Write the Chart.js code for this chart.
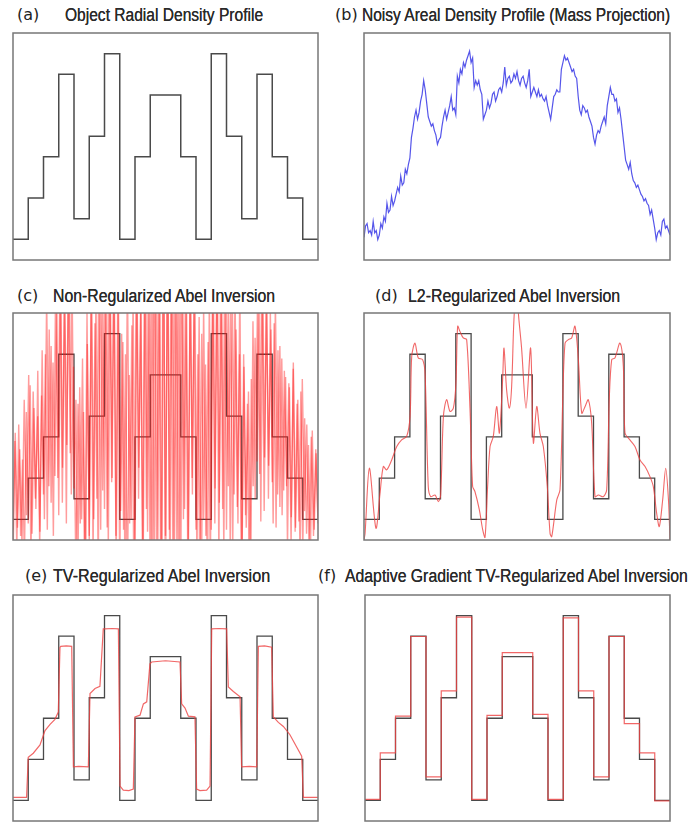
<!DOCTYPE html>
<html>
<head>
<meta charset="utf-8">
<script src="https://cdn.jsdelivr.net/npm/chart.js@4.4.0/dist/chart.umd.min.js"></script>
<style>
  body { margin: 0; background: #fff; width: 690px; height: 822px; position: relative; overflow: hidden; }
  canvas { position: absolute; }
  .lbl { position: absolute; font: 16px "DejaVu Sans"; color: #222; line-height: 20px; white-space: nowrap; }
  .ttl { position: absolute; font: 18px "Liberation Sans"; color: #2a2a2a; line-height: 20px; white-space: nowrap;
         transform-origin: 0 0; text-shadow: 0 0 0.6px #333; }
</style>
</head>
<body>
<div class="lbl" style="left:17px;top:5px">(a)</div>
<div class="ttl" style="left:65px;top:5px" data-w="198">Object Radial Density Profile</div>
<div class="lbl" style="left:335px;top:5px">(b)</div>
<div class="ttl" style="left:362px;top:5px" data-w="308">Noisy Areal Density Profile (Mass Projection)</div>
<div class="lbl" style="left:17px;top:286px">(c)</div>
<div class="ttl" style="left:53px;top:286px" data-w="222">Non-Regularized Abel Inversion</div>
<div class="lbl" style="left:375px;top:286px">(d)</div>
<div class="ttl" style="left:408px;top:286px" data-w="212">L2-Regularized Abel Inversion</div>
<div class="lbl" style="left:25px;top:566px">(e)</div>
<div class="ttl" style="left:53px;top:566px" data-w="217">TV-Regularized Abel Inversion</div>
<div class="lbl" style="left:318px;top:566px">(f)</div>
<div class="ttl" style="left:345px;top:566px" data-w="343">Adaptive Gradient TV-Regularized Abel Inversion</div>

<canvas id="chartA"></canvas>
<canvas id="chartB"></canvas>
<canvas id="chartC"></canvas>
<canvas id="chartD"></canvas>
<canvas id="chartE"></canvas>
<canvas id="chartF"></canvas>

<script>
// true object profile: one level per radial cell (20 cells)
const profileLevels = [1, 3, 5, 9, 2, 6, 10, 1, 5, 8, 8, 5, 1, 10, 6, 2, 9, 5, 3, 1];

// (b) noisy projection, sampled every 0.1 cell
const projValues = [
  10, 15, 16, 12, 13, 11, 17, 12, 13, 9,
  11, 16, 14, 19, 17, 25, 21, 22, 28, 24,
  26, 29, 32, 30, 37, 33, 34, 40, 38, 42,
  45, 54, 58, 63, 66, 62, 65, 70, 73, 79,
  75, 69, 63, 61, 59, 60, 57, 55, 51, 53,
  54, 59, 63, 66, 62, 65, 68, 72, 66, 67,
  64, 81, 78, 84, 82, 87, 85, 88, 90, 92,
  87, 89, 76, 79, 77, 79, 75, 73, 62, 64,
  66, 70, 67, 69, 73, 74, 70, 72, 75, 76,
  74, 78, 85, 77, 80, 81, 78, 79, 82, 80,
  83, 79, 77, 80, 81, 78, 76, 79, 84, 72,
  74, 76, 74, 72, 75, 72, 73, 71, 70, 72,
  68, 65, 62, 67, 72, 73, 75, 74, 74, 84,
  87, 90, 88, 89, 87, 85, 83, 84, 81, 80,
  72, 66, 64, 68, 67, 65, 66, 63, 61, 59,
  54, 51, 55, 57, 56, 59, 61, 63, 60, 68,
  72, 76, 73, 73, 70, 71, 65, 67, 62, 56,
  50, 44, 42, 40, 43, 38, 35, 34, 32, 33,
  31, 29, 28, 26, 27, 25, 24, 20, 22, 18,
  14, 9, 12, 13, 11, 17, 18, 14, 15, 13,
  11
];

// (c) unregularized inversion, two overlaid noisy runs
const rawValues = [
  0.5, 4.8, -0.5, 5.6, 0.2, 3.9, -1, 6.2,
  0.8, 7.5, 0.3, 6.4, 1.5, 8.2, -0.4, 7.0,
  2.2, 9.0, 0.5, 10.2, 1.8, 8.6, 3.1, 11.5,
  1.2, 13, 3.5, 12, 0.8, 14, 4.2, 12.5,
  2.5, 6.8, -2, 7.4, 1.0, 6.2, -3, 9.5,
  0.2, 12, -1, 10.5, 2.0, 13, 0.5, 11.8,
  1.5, 14, -0.5, 13, 3.0, 15, 0.2, 12.5,
  -2, 10, 0.5, 9, -3, 8.0, 1.0, 12,
  -1, 13, 3.5, 11, -2, 14, 1.5, 12.8,
  -3, 15, -2, 16, 0.0, 14, -4, 16,
  -4, 16, 0.5, 15, -3, 17, -1, 14,
  -2, 13, 1.5, 12, -1, 14, 3.0, 11.5,
  0.5, 9, -2, 10, 1, 8.5, -3, 12,
  0.5, 14, 2.5, 13, -1, 15, 1.5, 12.5,
  0.5, 11, -1, 12.5, 2.2, 10.2, 0.8, 12.8,
  -2, 9.0, 1.2, 6.6, -3, 7.8, 2.6, 9.8,
  3.8, 12.5, 0.9, 13, 4.0, 12.2, 2.0, 11.2,
  2.8, 10.5, 0.6, 9.2, 1.6, 8.8, 2.4, 7.9,
  -0.4, 7.4, 1.1, 8.3, 0.4, 6.6, 0.9, 7.2,
  -0.6, 5.9, 0.3, 4.6, -0.8, 5.3, 0.5, 4.2,
  1.0
];
const rawValues2 = [
  -1, 5.2, 0.6, 4.4, -0.3, 6.8, 1.2,
  8.0, -0.8, 7.2, 2.0, 6.0, 0.4, 9.2,
  1.0, 11.8, 2.6, 9.4, 0.2, 12.4, 3.0,
  13.5, 1.8, 12.2, 4.6, 14.5, 2.2, 8.4,
  -1.5, 6.6, 0.8, 8.8, -2.5, 11, 0.0,
  13.2, 1.0, 12.0, -1.8, 14.2, 2.4, 13.6,
  0.6, 15, 2.8, 12.8, -1.2, 11.6, 1.4,
  9.6, -2.4, 13.0, 0.8, 10.4, -3.5, 14.2,
  2.0, 12.4, -2.2, 15.5, 0.4, 13.8, -3.2,
  16.5, -1.5, 14.8, -4.5, 17, 0.2, 15.2,
  -3.0, 16.2, -0.5, 14.5, -3.8, 15.8, 1.0,
  13.5, -2.0, 12.6, 2.2, 14.2, -1.2, 10.8,
  -2.6, 11.4, 0.2, 9.6, -1.5, 13.2, 0.8,
  14.8, 1.8, 12.8, -0.6, 13.6, 2.6, 11.2,
  -0.2, 12.2, 1.6, 9.0, -2.2, 8.4, 0.6,
  7.2, -1.6, 10.6, 2.0, 11.4, 3.2, 13.4,
  1.4, 12.0, 3.6, 10.2, 0.8, 11.6, 2.2,
  9.4, 1.2, 8.2, 2.6, 7.6, -0.2, 8.6,
  0.6, 6.8, -0.8, 7.8, 1.4, 5.6, -0.4,
  5.0, 0.2, 4.4, 0.8
];

// (d) L2-regularized inversion
const l2X = [0, 0.07, 0.35, 0.78, 1.05, 1.26, 1.48, 1.81, 2.14, 2.46,
  2.79, 3.01, 3.12, 3.33, 3.55, 3.83, 3.99, 4.2, 4.36, 4.64,
  4.86, 5.01, 5.19, 5.4, 5.62, 5.84, 6.01, 6.12, 6.27, 6.49,
  6.71, 6.93, 7.1, 7.25, 7.54, 7.76, 7.91, 8.08, 8.24, 8.45,
  8.67, 8.85, 9.06, 9.15, 9.32, 9.5, 9.65, 9.8, 10.0, 10.09,
  10.3, 10.59, 10.89, 11.07, 11.29, 11.5, 11.72, 11.98, 12.16, 12.27,
  12.6, 12.81, 12.99, 13.14, 13.36, 13.57, 13.79, 14.01, 14.23, 14.45,
  14.66, 14.88, 15.1, 15.32, 15.64, 15.86, 16.03, 16.19, 16.4, 16.73,
  16.95, 17.06, 17.38, 17.71, 18.04, 18.37, 18.69, 18.91, 19.13, 19.3,
  19.52, 19.72, 19.9, 20.0];
const l2Y = [0.0, 0.32, 3.48, 0.57, 2.27, 3.56, 3.4, 3.88, 4.53, 4.85,
  5.02, 5.99, 8.9, 9.54, 8.82, 8.74, 8.09, 2.59, 2.1, 2.18,
  1.86, 2.18, 5.99, 6.8, 6.23, 6.39, 7.6, 10.36, 10.11, 9.79,
  9.71, 6.31, 2.59, 2.35, 1.46, 0.49, 0.13, 2.59, 4.53, 5.02,
  6.47, 5.18, 7.77, 9.3, 7.28, 6.39, 7.44, 10.68, 12.5, 11.0,
  9.3, 6.39, 9.3, 4.7, 6.47, 5.18, 4.53, 2.59, 0.32, 0.16,
  1.94, 2.43, 6.8, 9.54, 9.71, 9.79, 10.36, 8.74, 6.15, 6.47,
  6.8, 5.66, 2.1, 2.18, 2.1, 2.43, 6.8, 8.74, 8.82, 9.54,
  8.41, 5.18, 4.85, 4.53, 3.88, 3.56, 3.07, 2.59, 1.29, 0.65,
  1.94, 3.48, 1.94, 0.0];

// (e) TV-regularized inversion
const tvX = [0, 0.89, 1.0, 1.33, 1.77, 2.1, 2.43, 2.75, 2.97, 3.08,
  3.13, 3.5, 3.85, 3.96, 4.3, 4.94, 5.05, 5.38, 5.7, 5.92,
  6.03, 6.5, 6.91, 7.02, 7.23, 7.6, 7.89, 8.0, 8.33, 8.55,
  8.77, 8.98, 9.09, 10.0, 10.95, 11.06, 11.28, 11.5, 11.93, 12.04,
  12.26, 12.7, 12.92, 13.03, 13.5, 14.01, 14.12, 14.45, 14.89, 14.99,
  15.5, 15.98, 16.09, 16.5, 16.96, 17.07, 17.4, 17.73, 18.16, 18.6,
  18.93, 19.04, 20];
const tvY = [1.15, 1.15, 3.1, 3.3, 3.7, 4.4, 4.7, 4.95, 5.3, 8.45,
  8.5, 8.52, 8.5, 2.64, 2.66, 2.64, 6.2, 6.45, 6.55, 9.35,
  9.35, 9.37, 9.35, 1.7, 1.5, 1.48, 1.55, 5.07, 5.15, 5.7,
  5.8, 7.65, 7.74, 7.8, 7.74, 5.7, 5.5, 5.1, 5.07, 1.55,
  1.48, 1.5, 1.7, 9.35, 9.37, 9.35, 6.52, 6.3, 6.05, 2.64,
  2.66, 2.64, 8.5, 8.52, 8.46, 5.07, 4.8, 4.6, 4.2, 3.6,
  3.15, 1.15, 1.15];

// (f) adaptive gradient TV inversion, one level per cell
const agtvLevels = [1.05, 3.32, 5.1, 8.98, 2.15, 6.33, 9.92, 1.05, 5.14, 8.2,
  8.2, 5.19, 1.05, 9.89, 6.33, 2.15, 8.98, 4.74, 3.32, 0.98];

const RED = 'rgba(238,65,65,0.8)';
const BLACK = '#4a4a4a';

function steps(levels) {
  const pts = levels.map((v, i) => ({ x: i, y: v }));
  pts.push({ x: levels.length, y: levels[levels.length - 1] });
  return pts;
}
function pairs(xs, ys) {
  return xs.map((x, i) => ({ x: x, y: ys[i] }));
}
function even(vals) {
  return vals.map((v, i) => ({ x: i * 20 / (vals.length - 1), y: v }));
}

const framePlugin = {
  id: 'frame',
  afterDraw(chart) {
    const a = chart.chartArea, c = chart.ctx;
    c.save();
    c.strokeStyle = '#777';
    c.lineWidth = 1.5;
    c.strokeRect(a.left, a.top, a.right - a.left, a.bottom - a.top);
    c.restore();
  }
};

function makeChart(id, box, datasets, yMin, yMax) {
  const cv = document.getElementById(id);
  cv.width = box[2] + 4;
  cv.height = box[3] + 4;
  cv.style.left = (box[0] - 2) + 'px';
  cv.style.top = (box[1] - 2) + 'px';
  return new Chart(cv, {
    type: 'line',
    data: { datasets },
    options: {
      responsive: false,
      animation: false,
      devicePixelRatio: 1,
      layout: { padding: 2 },
      elements: { point: { radius: 0 }, line: { tension: 0 } },
      plugins: { legend: { display: false }, tooltip: { enabled: false } },
      scales: {
        x: { type: 'linear', min: 0, max: 20, display: false },
        y: { min: yMin, max: yMax, display: false }
      }
    },
    plugins: [framePlugin]
  });
}

const truth = (w) => ({ data: steps(profileLevels), stepped: true, borderColor: BLACK, borderWidth: w });

makeChart('chartA', [13, 33, 305, 227], [truth(1.5)], 0, 11);

makeChart('chartB', [364, 33, 306, 227], [
  { data: even(projValues), borderColor: 'rgba(55,55,230,0.85)', borderWidth: 1.2 }
], 0, 100);

makeChart('chartC', [13, 313, 305, 227], [
  { data: even(rawValues), borderColor: 'rgba(255,20,20,0.42)', borderWidth: 1.4 },
  { data: even(rawValues2), borderColor: 'rgba(255,20,20,0.42)', borderWidth: 1.4 },
  truth(1.3)
], 0, 11);

makeChart('chartD', [364, 313, 306, 227], [
  { data: pairs(l2X, l2Y), borderColor: RED, borderWidth: 1.1, tension: 0.3 },
  truth(1.3)
], 0, 11);

makeChart('chartE', [13, 595, 305, 226], [
  { data: pairs(tvX, tvY), borderColor: RED, borderWidth: 1.2 },
  truth(1.3)
], 0, 11);

makeChart('chartF', [365, 595, 305, 226], [
  { data: steps(agtvLevels), stepped: true, borderColor: RED, borderWidth: 1.2 },
  truth(1.3)
], 0, 11);

// squeeze the titles to the width they have in the figure
document.querySelectorAll('.ttl').forEach(el => {
  const w = +el.dataset.w;
  el.style.transform = 'scaleX(' + (w / el.offsetWidth) + ')';
});
</script>
</body>
</html>
